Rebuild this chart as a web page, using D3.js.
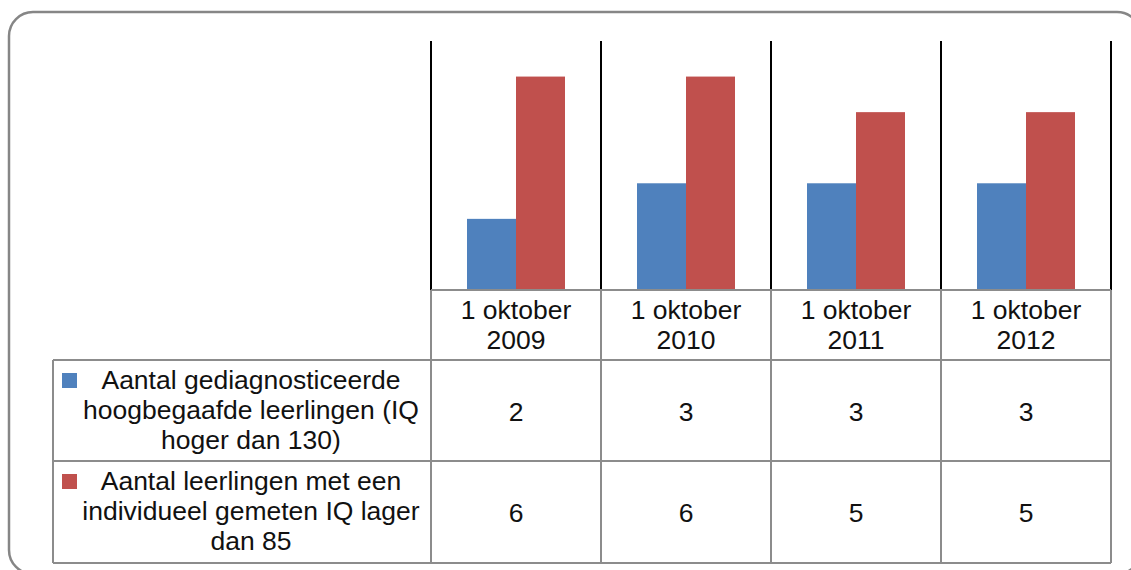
<!DOCTYPE html>
<html>
<head>
<meta charset="utf-8">
<script src="https://cdn.jsdelivr.net/npm/d3@7"></script>
<style>
  body { margin: 0; background: #fff; }
  text { font-family: "Liberation Sans", Arial, sans-serif; fill: #111; }
</style>
</head>
<body>
<div id="main"></div>
<script>
// DATA
const categories = ["1 oktober 2009", "1 oktober 2010", "1 oktober 2011", "1 oktober 2012"]
const series = ["hoog", "laag"]
const seriesLabels = [
  ["Aantal gediagnosticeerde", "hoogbegaafde leerlingen (IQ", "hoger dan 130)"],
  ["Aantal leerlingen met een", "individueel gemeten IQ lager", "dan 85"]
]
const hoogValues = [2, 3, 3, 3]
const laagValues = [6, 6, 5, 5]
const yMax = 7

// COLORS
const colors = ['#4f81bd', '#c0504d']
const gridGray = '#8c8c8c'

let width = 1131
let height = 570

const plotLeft = 431, plotRight = 1111
const plotTop = 41, plotBottom = 290
const tableLeft = 53
const rowBottoms = [360, 461, 563]
const fontSize = 26.5
const lineH = 30

let svg = d3.select("#main").append("svg")
  .attr("width", width)
  .attr("height", height)

// rounded chart border
svg.append("rect")
  .attr("x", 9).attr("y", 12)
  .attr("width", 1132).attr("height", 562)
  .attr("rx", 24)
  .attr("fill", "none")
  .attr("stroke", "#868686")
  .attr("stroke-width", 2.5)

// SCALES
let x0 = d3.scaleBand()
  .domain(categories)
  .range([plotLeft, plotRight])

let x1 = d3.scaleBand()
  .domain(series)
  .range([0, x0.bandwidth()])
  .paddingOuter((170 / 49 - 2) / 2)

let y = d3.scaleLinear()
  .domain([0, yMax])
  .range([plotBottom, plotTop])

let data = categories.map((c, i) => ({cat: c, values: [hoogValues[i], laagValues[i]]}))

// BARS
let groups = svg.selectAll("g.cat").data(data)
  .enter().append("g")
    .attr("class", "cat")
    .attr("transform", d => `translate(${x0(d.cat)},0)`)

groups.selectAll("rect").data(d => d.values.map((v, j) => ({key: series[j], v: v, j: j})))
  .enter().append("rect")
    .attr("x", d => x1(d.key))
    .attr("y", d => y(d.v))
    .attr("width", x1.bandwidth())
    .attr("height", d => y(0) - y(d.v))
    .attr("fill", d => colors[d.j])

// vertical category separators in plot area
let edges = categories.map(c => x0(c)).concat([plotRight])
svg.selectAll("line.sep").data(edges)
  .enter().append("line")
    .attr("class", "sep")
    .attr("x1", d => d).attr("x2", d => d)
    .attr("y1", plotTop).attr("y2", plotBottom)
    .attr("stroke", "#000")
    .attr("stroke-width", 2)

// DATA TABLE
let table = svg.append("g").attr("stroke", gridGray).attr("stroke-width", 2)

table.append("line")
  .attr("x1", plotLeft).attr("x2", plotRight)
  .attr("y1", plotBottom).attr("y2", plotBottom)
rowBottoms.forEach(yy => {
  table.append("line")
    .attr("x1", tableLeft).attr("x2", plotRight)
    .attr("y1", yy).attr("y2", yy)
})
edges.forEach(xx => {
  table.append("line")
    .attr("x1", xx).attr("x2", xx)
    .attr("y1", plotBottom).attr("y2", rowBottoms[2])
})
table.append("line")
  .attr("x1", tableLeft).attr("x2", tableLeft)
  .attr("y1", rowBottoms[0]).attr("y2", rowBottoms[2])

// header labels
categories.forEach(c => {
  let cut = c.lastIndexOf(" ")
  let parts = [c.slice(0, cut), c.slice(cut + 1)]
  let cx = x0(c) + x0.bandwidth() / 2
  let t = svg.append("text")
    .attr("text-anchor", "middle")
    .attr("font-size", fontSize)
  parts.forEach((p, k) => {
    t.append("tspan").attr("x", cx).attr("y", 319 + k * lineH).text(p)
  })
})

// row labels, legend keys and values
const rowValues = [hoogValues, laagValues]
const rowTops = [rowBottoms[0], rowBottoms[1]]
series.forEach((s, i) => {
  svg.append("rect")
    .attr("x", 62).attr("y", rowTops[i] + 13)
    .attr("width", 15).attr("height", 15)
    .attr("fill", colors[i])

  let t = svg.append("text")
    .attr("text-anchor", "middle")
    .attr("font-size", fontSize)
  seriesLabels[i].forEach((p, k) => {
    t.append("tspan").attr("x", 251).attr("y", rowTops[i] + 29 + k * lineH).text(p)
  })

  categories.forEach((c, j) => {
    svg.append("text")
      .attr("x", x0(c) + x0.bandwidth() / 2)
      .attr("y", rowTops[i] + 61)
      .attr("text-anchor", "middle")
      .attr("font-size", fontSize)
      .text(rowValues[i][j])
  })
})
</script>
</body>
</html>
